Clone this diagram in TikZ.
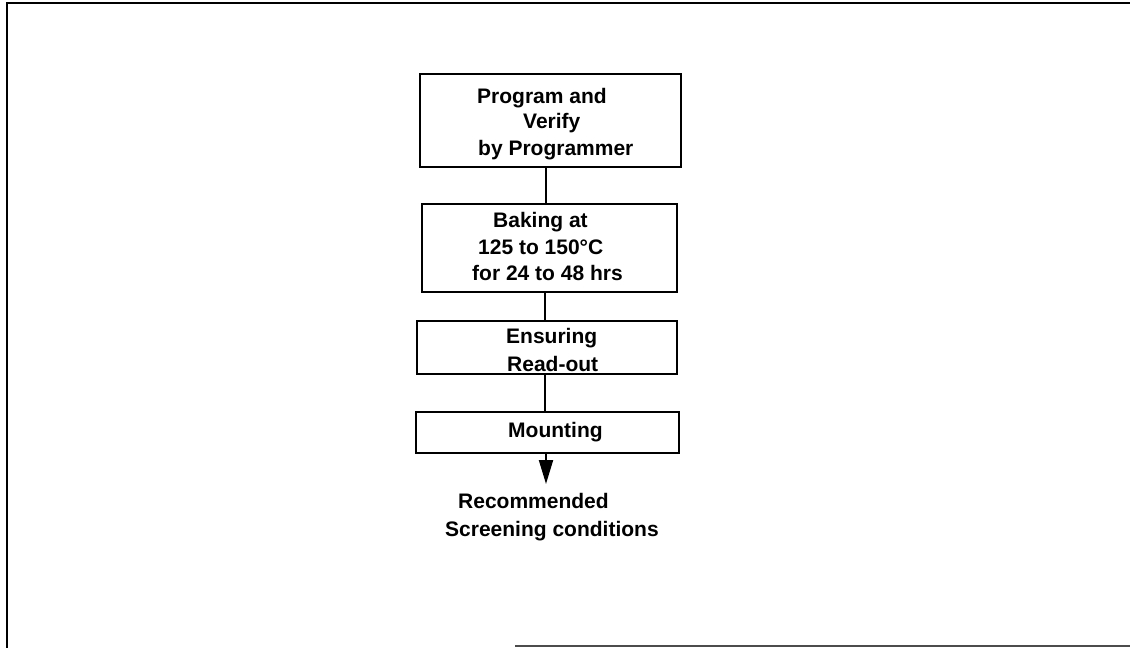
\documentclass[tikz,border=0pt]{standalone}
\usepackage{fontspec}
\setmainfont{Liberation Sans}
\usetikzlibrary{arrows.meta}
\begin{document}
\begin{tikzpicture}[x=1pt,y=-1pt,
  stepbox/.style={draw=black,line width=2.4pt,rectangle,inner sep=0pt},
  txt/.style={anchor=base west,inner sep=0pt,font=\fontsize{21}{25}\selectfont\bfseries},
  link/.style={line width=2pt},
  frame/.style={line width=2.8pt}]
\useasboundingbox (0,0) rectangle (1130,648);
% frame
\coordinate (fA) at (7,648);
\coordinate (fB) at (7,3);
\coordinate (fC) at (1130,3);
\coordinate (fD) at (515,646);
\coordinate (fE) at (1130,646);
\draw[frame] (fA) -- (fB) -- (fC);
\draw[line width=2pt,black!70] (fD) -- (fE);
% boxes
\node[stepbox,minimum width=261pt,minimum height=93pt] (b1) at (550.5,120.5) {};
\node[stepbox,minimum width=255pt,minimum height=88pt] (b2) at (549.5,248) {};
\node[stepbox,minimum width=260pt,minimum height=53pt] (b3) at (547,347.5) {};
\node[stepbox,minimum width=263pt,minimum height=41pt] (b4) at (547.5,432.5) {};
% texts
\node[txt] (t11) at (477,103) {Program and};
\node[txt] (t12) at (523,128) {Verify};
\node[txt] (t13) at (478,155) {by Programmer};
\node[txt] (t21) at (493,227) {Baking at};
\node[txt] (t22) at (478,254) {125 to 150°C};
\node[txt] (t23) at (472,280) {for 24 to 48 hrs};
\node[txt] (t31) at (506,343) {Ensuring};
\node[txt] (t32) at (507,371) {Read-out};
\node[txt] (t41) at (508,437) {Mounting};
\node[txt] (r1) at (458,508) {Recommended};
\node[txt] (r2) at (445,536) {Screening conditions};
% connectors
\coordinate (end) at (546,484);
\draw[link] (b1.south -| 546,0) -- (b2.north -| 546,0);
\draw[link] (b2.south -| 545,0) -- (b3.north -| 545,0);
\draw[link] (b3.south -| 545,0) -- (b4.north -| 545,0);
\draw[link,-{Triangle[length=24pt,width=14pt]}] (b4.south -| 546,0) -- (end);
\end{tikzpicture}
\end{document}
